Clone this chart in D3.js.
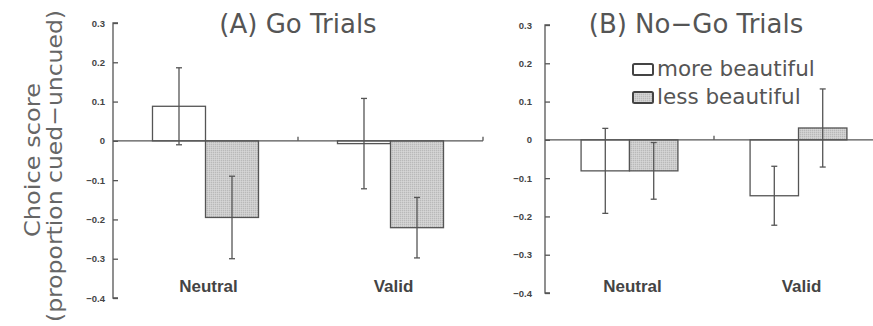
<!DOCTYPE html>
<html>
<head>
<meta charset="utf-8">
<script src="https://cdn.jsdelivr.net/npm/d3@7"></script>
<style>
    body { margin: 0; background: #fff; }
    svg { display: block; }
</style>
</head>
<body>
<div id="chart"></div>
<script>
const categories = ["Neutral", "Valid"];
const series = ["more beautiful", "less beautiful"];
const yTicks = [0.3, 0.2, 0.1, 0, -0.1, -0.2, -0.3, -0.4];

// means per category, in series order
const goMeans = [[0.088, -0.195], [-0.007, -0.221]];
const goErrors = [[0.098, 0.105], [0.115, 0.077]];
const noGoMeans = [[-0.081, -0.081], [-0.146, 0.031]];
const noGoErrors = [[0.111, 0.074], [0.077, 0.102]];

const width = 873, height = 326;
const fills = ["#ffffff", "#c9c9c9"];
const ink = "#555";

const svg = d3.select("#chart").append("svg")
    .attr("width", width)
    .attr("height", height);

const defs = svg.append("defs");
const pat = defs.append("pattern")
    .attr("id", "grain")
    .attr("width", 2).attr("height", 2)
    .attr("patternUnits", "userSpaceOnUse");
pat.append("rect").attr("width", 2).attr("height", 2).attr("fill", "#cdcdcd");
pat.append("rect").attr("width", 1).attr("height", 1).attr("fill", "#b9b9b9");
pat.append("rect").attr("x", 1).attr("y", 1).attr("width", 1).attr("height", 1).attr("fill", "#d6d6d6");

function drawPanel(opts) {
    const g = svg.append("g");
    const y = d3.scaleLinear().domain([-0.4, 0.3]).range([opts.bottom, opts.top]);
    const x = d3.scaleBand().domain(categories).range([opts.left, opts.left + opts.band * 2]);
    const xs = d3.scaleBand().domain(series).range([0, x.bandwidth()])
        .paddingInner(0).paddingOuter(0.745);

    // y axis with inward ticks
    const yAxis = d3.axisRight(y).tickValues(yTicks).tickSize(5).tickFormat("");
    const ya = g.append("g").attr("transform", `translate(${opts.left},0)`).call(yAxis);
    ya.select(".domain").attr("stroke", ink).attr("stroke-width", 1.3)
        .attr("d", `M5,${opts.bottom}H0V${opts.top}H5`);
    ya.selectAll(".tick line").attr("stroke", ink).attr("stroke-width", 1.3);

    g.selectAll(".ylab")
        .data(yTicks)
        .enter()
        .append("text")
        .attr("class", "ylab")
        .attr("x", opts.labelRight)
        .attr("y", d => y(d) + 3.5)
        .attr("text-anchor", "end")
        .attr("font-family", "Liberation Sans, Arial, sans-serif")
        .attr("font-weight", "bold")
        .attr("font-size", 9.5)
        .attr("fill", "#444")
        .text(d => d === 0 ? "0" : d3.format(".1f")(d).replace("-", "\u2212"));

    // bars
    const groups = g.selectAll(".cat")
        .data(opts.means.map((m, i) => ({ cat: categories[i], m: m, e: opts.errors[i] })))
        .enter()
        .append("g")
        .attr("transform", d => `translate(${x(d.cat)},0)`);

    groups.selectAll("rect")
        .data(d => d.m.map((v, j) => ({ s: series[j], v: v, j: j })))
        .enter()
        .append("rect")
        .attr("x", d => xs(d.s))
        .attr("width", xs.bandwidth())
        .attr("y", d => Math.min(y(d.v), y(0)))
        .attr("height", d => Math.abs(y(d.v) - y(0)))
        .attr("fill", d => d.j === 0 ? fills[0] : "url(#grain)")
        .attr("stroke", ink)
        .attr("stroke-width", 1.3);

    // zero line with upward ticks at band edges
    g.append("line")
        .attr("x1", opts.left).attr("x2", opts.zeroEnd)
        .attr("y1", y(0)).attr("y2", y(0))
        .attr("stroke", ink).attr("stroke-width", 1.3);
    const edges = [x(categories[1]), x(categories[1]) + x.bandwidth()];
    g.selectAll(".xtick")
        .data(edges.filter(v => v <= width))
        .enter()
        .append("line")
        .attr("x1", d => d).attr("x2", d => d)
        .attr("y1", y(0)).attr("y2", y(0) - 4)
        .attr("stroke", ink).attr("stroke-width", 1.3);

    // error bars
    const errs = groups.selectAll(".err")
        .data(d => d.m.map((v, j) => ({ s: series[j], v: v, e: d.e[j] })))
        .enter()
        .append("g")
        .attr("class", "err")
        .attr("stroke", ink)
        .attr("stroke-width", 1.3);
    errs.append("line")
        .attr("x1", d => xs(d.s) + xs.bandwidth() / 2)
        .attr("x2", d => xs(d.s) + xs.bandwidth() / 2)
        .attr("y1", d => y(d.v + d.e))
        .attr("y2", d => y(d.v - d.e));
    [1, -1].forEach(sign => {
        errs.append("line")
            .attr("x1", d => xs(d.s) + xs.bandwidth() / 2 - 3)
            .attr("x2", d => xs(d.s) + xs.bandwidth() / 2 + 3)
            .attr("y1", d => y(d.v + sign * d.e))
            .attr("y2", d => y(d.v + sign * d.e));
    });

    // category labels
    g.selectAll(".xlab")
        .data(categories)
        .enter()
        .append("text")
        .attr("x", d => x(d) + x.bandwidth() / 2 + 3)
        .attr("y", 292)
        .attr("text-anchor", "middle")
        .attr("font-family", "Liberation Sans, Arial, sans-serif")
        .attr("font-weight", "bold")
        .attr("font-size", 17)
        .attr("fill", "#444")
        .text(d => d);

    // title
    g.append("text")
        .attr("x", opts.titleX)
        .attr("y", 33)
        .attr("text-anchor", "middle")
        .attr("font-family", "DejaVu Sans, sans-serif")
        .attr("font-size", 26)
        .attr("fill", ink)
        .text(opts.title);
}

drawPanel({
    title: "(A) Go Trials", titleX: 298,
    left: 113, band: 185, top: 23, bottom: 298, labelRight: 105, zeroEnd: 483,
    means: goMeans, errors: goErrors
});
drawPanel({
    title: "(B) No\u2212Go Trials", titleX: 696,
    left: 545, band: 169, top: 25, bottom: 293, labelRight: 532, zeroEnd: 873,
    means: noGoMeans, errors: noGoErrors
});

// legend
const legend = svg.append("g").attr("transform", "translate(633,0)");
legend.selectAll("rect")
    .data(series)
    .enter()
    .append("rect")
    .attr("x", 0)
    .attr("y", (d, i) => 64 + i * 28)
    .attr("width", 20).attr("height", 11)
    .attr("rx", 1.5)
    .attr("fill", (d, i) => i === 0 ? fills[0] : "url(#grain)")
    .attr("stroke", "#444")
    .attr("stroke-width", 2);
legend.selectAll("text")
    .data(series)
    .enter()
    .append("text")
    .attr("x", 24)
    .attr("y", (d, i) => 76 + i * 28)
    .attr("font-family", "DejaVu Sans, sans-serif")
    .attr("font-size", 21.5)
    .attr("fill", ink)
    .text(d => d);

// y axis title
const yTitle = svg.append("text")
    .attr("transform", "translate(0,160) rotate(-90)")
    .attr("text-anchor", "middle")
    .attr("font-family", "DejaVu Sans, sans-serif")
    .attr("fill", "#666");
yTitle.append("tspan")
    .attr("x", 0).attr("y", 40)
    .attr("font-size", 22)
    .attr("textLength", 154)
    .attr("lengthAdjust", "spacingAndGlyphs")
    .text("Choice score");
yTitle.append("tspan")
    .attr("x", -6).attr("y", 62)
    .attr("font-size", 22)
    .attr("textLength", 312)
    .attr("lengthAdjust", "spacingAndGlyphs")
    .text("(proportion cued\u2212uncued)");
</script>
</body>
</html>
